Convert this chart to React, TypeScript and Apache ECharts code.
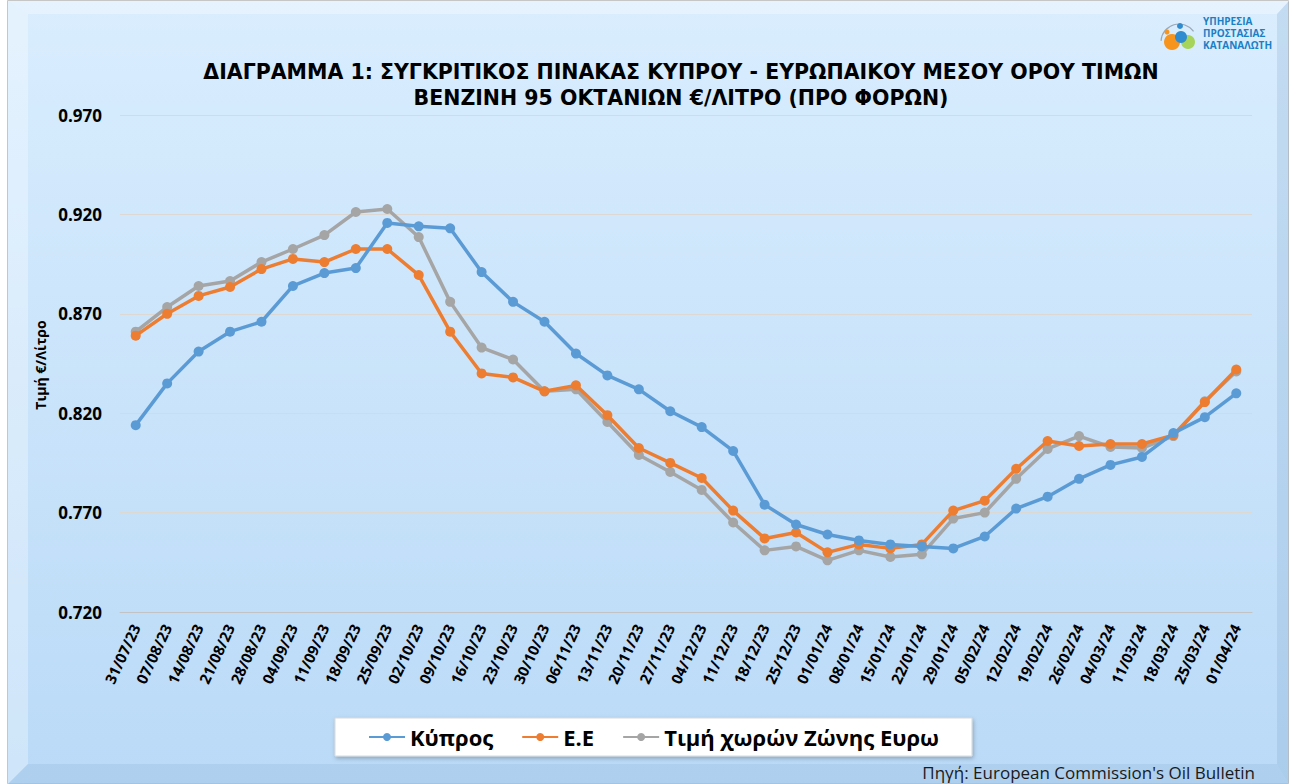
import React, { useEffect, useRef } from "react";
import * as echarts from "echarts";

const categories = [
  "31/07/23", "07/08/23", "14/08/23", "21/08/23", "28/08/23", "04/09/23", "11/09/23", "18/09/23", "25/09/23",
  "02/10/23", "09/10/23", "16/10/23", "23/10/23", "30/10/23", "06/11/23", "13/11/23", "20/11/23", "27/11/23",
  "04/12/23", "11/12/23", "18/12/23", "25/12/23", "01/01/24", "08/01/24", "15/01/24", "22/01/24", "29/01/24",
  "05/02/24", "12/02/24", "19/02/24", "26/02/24", "04/03/24", "11/03/24", "18/03/24", "25/03/24", "01/04/24",
];

const cyprus = [
  0.814, 0.835, 0.851, 0.861, 0.866, 0.884, 0.8905, 0.893, 0.9157, 0.914, 0.913, 0.891,
  0.876, 0.866, 0.850, 0.839, 0.832, 0.821, 0.813, 0.801, 0.774, 0.764, 0.759, 0.756,
  0.754, 0.753, 0.752, 0.758, 0.772, 0.778, 0.787, 0.794, 0.798, 0.810, 0.818, 0.830,
];

const eu = [
  0.859, 0.870, 0.879, 0.8835, 0.8925, 0.8976, 0.896, 0.9026, 0.9026, 0.8895, 0.861, 0.840,
  0.838, 0.831, 0.834, 0.819, 0.8025, 0.795, 0.7874, 0.771, 0.757, 0.760, 0.750, 0.754,
  0.752, 0.754, 0.771, 0.776, 0.792, 0.806, 0.8035, 0.8045, 0.8045, 0.809, 0.8256, 0.842,
];

const euroZone = [
  0.861, 0.8734, 0.884, 0.8865, 0.896, 0.9026, 0.9096, 0.9212, 0.9227, 0.9086, 0.876, 0.853,
  0.847, 0.831, 0.832, 0.8156, 0.799, 0.7904, 0.7814, 0.765, 0.751, 0.753, 0.746, 0.751,
  0.7477, 0.749, 0.767, 0.770, 0.787, 0.802, 0.8085, 0.803, 0.8025, 0.8085, 0.826, 0.841,
];

const seriesNames = ["Κύπρος", "Ε.Ε", "Τιμή χωρών Ζώνης Ευρω"];
const seriesColors = ["#5b9bd5", "#ed7d31", "#a5a5a5"];
const titleLines = [
  "ΔΙΑΓΡΑΜΜΑ 1: ΣΥΓΚΡΙΤΙΚΟΣ ΠΙΝΑΚΑΣ ΚΥΠΡΟΥ - ΕΥΡΩΠΑΙΚΟΥ ΜΕΣΟΥ ΟΡΟΥ ΤΙΜΩΝ",
  "ΒΕΝΖΙΝΗ 95 ΟΚΤΑΝΙΩΝ €/ΛΙΤΡΟ (ΠΡΟ ΦΟΡΩΝ)",
];
const yAxisName = "Τιμή €/Λίτρο";
const sourceText = "Πηγή: European Commission's Oil Bulletin";
const logoLines = ["ΥΠΗΡΕΣΙΑ", "ΠΡΟΣΤΑΣΙΑΣ", "ΚΑΤΑΝΑΛΩΤΗ"];

const FONT = "'Open Sans', 'DejaVu Sans', sans-serif";
const TITLE_FONT = "'DejaVu Sans', sans-serif";

export default function App() {
  const ref = useRef<HTMLDivElement>(null);

  useEffect(() => {
    if (!ref.current) return;
    const chart = echarts.init(ref.current, undefined, { renderer: "svg" });
    const W = 1289;
    const H = 784;
    const dataSets = [cyprus, eu, euroZone];

    const option: any = {
      animation: false,
      textStyle: { fontFamily: FONT },
      graphic: [
        {
          type: "rect",
          z: -10,
          silent: true,
          shape: { x: 7.5, y: 0.5, width: W - 8, height: H - 1 },
          style: {
            fill: new echarts.graphic.LinearGradient(0, 0, 0, 1, [
              { offset: 0, color: "#d9edfe" },
              { offset: 1, color: "#badaf7" },
            ]),
            stroke: "#c6c6c6",
            lineWidth: 1,
          },
        },
        {
          type: "polygon",
          z: -9,
          silent: true,
          shape: { points: [[8, 1], [W, 1], [W - 12, 14], [28, 14]] },
          style: { fill: "rgba(255,255,255,0.35)" },
        },
        {
          type: "polygon",
          z: -9,
          silent: true,
          shape: { points: [[8, 1], [28, 14], [28, H - 20], [8, H]] },
          style: { fill: "rgba(255,255,255,0.3)" },
        },
        {
          type: "polygon",
          z: -9,
          silent: true,
          shape: { points: [[8, H], [28, H - 20], [W - 12, H - 20], [W, H]] },
          style: { fill: "rgba(120,160,200,0.18)" },
        },
        {
          type: "polygon",
          z: -9,
          silent: true,
          shape: { points: [[W, 1], [W - 12, 14], [W - 12, H - 20], [W, H]] },
          style: { fill: "rgba(120,160,200,0.22)" },
        },
        ...titleLines.map((t, i) => ({
          type: "text",
          silent: true,
          x: 681,
          y: 72 + i * 25.5,
          style: {
            text: t,
            fill: "#000",
            font: `bold 20.5px ${TITLE_FONT}`,
            textAlign: "center",
            textVerticalAlign: "middle",
          },
        })),
        {
          type: "text",
          silent: true,
          x: 1255,
          y: 772,
          style: {
            text: sourceText,
            fill: "#1a1a1a",
            font: `17px ${FONT}`,
            textAlign: "right",
            textVerticalAlign: "middle",
          },
        },
        // logo
        {
          type: "arc",
          silent: true,
          shape: { cx: 1179, cy: 42, r: 18, startAngle: Math.PI * 1.02, endAngle: Math.PI * 1.8 },
          style: { stroke: "#9aa9b8", lineWidth: 1.2, fill: "none" },
        },
        { type: "circle", silent: true, shape: { cx: 1188, cy: 42, r: 7 }, style: { fill: "#a6d35a" } },
        { type: "circle", silent: true, shape: { cx: 1172, cy: 42, r: 8 }, style: { fill: "#f7941d" } },
        { type: "circle", silent: true, shape: { cx: 1181, cy: 37, r: 6 }, style: { fill: "#2e8bd0" } },
        { type: "circle", silent: true, shape: { cx: 1180, cy: 26, r: 3 }, style: { fill: "#2e8bd0" } },
        { type: "circle", silent: true, shape: { cx: 1167, cy: 32, r: 2.5 }, style: { fill: "#f7941d" } },
        ...logoLines.map((t, i) => ({
          type: "text",
          silent: true,
          x: 1203,
          y: 21 + i * 12,
          style: {
            text: t,
            fill: "#1b7fc4",
            font: `bold 10px ${FONT}`,
            textAlign: "left",
            textVerticalAlign: "middle",
          },
        })),
        {
          type: "text",
          silent: true,
          x: 40,
          y: 365,
          rotation: Math.PI / 2,
          style: {
            text: yAxisName,
            fill: "#000",
            font: `bold 14px ${FONT}`,
            textAlign: "center",
            textVerticalAlign: "middle",
          },
        },
      ],
      grid: { left: 120, right: 37, top: 115, bottom: 172, containLabel: false },
      legend: {
        data: seriesNames,
        left: 335,
        top: 718,
        padding: [8, 33, 8, 33],
        itemGap: 28,
        itemWidth: 36,
        itemHeight: 10,
        backgroundColor: "#ffffff",
        borderColor: "#d9d9d9",
        borderWidth: 1,
        shadowColor: "rgba(0,0,0,0.25)",
        shadowBlur: 4,
        shadowOffsetX: 1,
        shadowOffsetY: 2,
        textStyle: { fontFamily: FONT, fontWeight: "bold", fontSize: 22, color: "#000" },
      },
      xAxis: {
        type: "category",
        data: categories,
        boundaryGap: true,
        axisLine: { show: true, lineStyle: { color: "#c3c3c3", width: 1 } },
        axisTick: { show: false },
        axisLabel: {
          interval: 0,
          rotate: 65,
          fontFamily: FONT,
          fontWeight: "bold",
          fontSize: 15,
          color: "#000",
          margin: 13,
        },
      },
      yAxis: {
        type: "value",
        min: 0.72,
        max: 0.97,
        interval: 0.05,
        axisLine: { show: false },
        axisTick: { show: false },
        splitLine: { show: true, lineStyle: { color: "#ddd8d2", width: 1 } },
        axisLabel: {
          formatter: (v: number) => v.toFixed(3),
          fontFamily: FONT,
          fontWeight: "bold",
          fontSize: 17,
          color: "#000",
          margin: 18,
        },
      },
      series: seriesNames.map((name, i) => ({
        name,
        type: "line",
        data: dataSets[i],
        symbol: "circle",
        symbolSize: 10,
        showSymbol: true,
        itemStyle: { color: seriesColors[i] },
        lineStyle: { color: seriesColors[i], width: 3.5 },
        z: 3 + (2 - i),
      })),
    };

    chart.setOption(option);
    return () => chart.dispose();
  }, []);

  return (
    <div
      ref={ref}
      style={{ position: "absolute", left: 0, top: 0, width: 1289, height: 784 }}
    />
  );
}
